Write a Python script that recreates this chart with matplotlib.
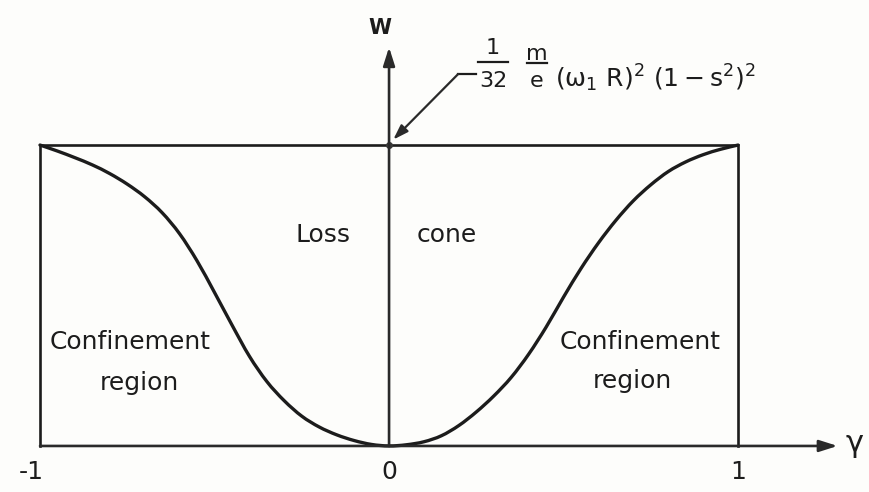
import numpy as np
import matplotlib.pyplot as plt
from matplotlib.path import Path
from matplotlib.patches import PathPatch

# W(gamma), normalised so the top of the loss cone is 1
gamma = [-1.0, -0.95, -0.9, -0.85, -0.8, -0.75, -0.7, -0.65, -0.6, -0.55,
         -0.5, -0.45, -0.4, -0.35, -0.3, -0.25, -0.2, -0.15, -0.1, -0.05,
         0.0, 0.05, 0.1, 0.15, 0.2, 0.25, 0.3, 0.35, 0.4, 0.45,
         0.5, 0.55, 0.6, 0.65, 0.7, 0.75, 0.8, 0.85, 0.9, 0.95, 1.0]
W = [1.0, 0.980, 0.958, 0.934, 0.905, 0.870, 0.828, 0.775, 0.705, 0.615,
     0.510, 0.402, 0.298, 0.214, 0.150, 0.099, 0.063, 0.037, 0.018, 0.005,
     0.0, 0.004, 0.014, 0.034, 0.068, 0.113, 0.166, 0.228, 0.305, 0.395,
     0.495, 0.590, 0.675, 0.750, 0.815, 0.868, 0.912, 0.944, 0.968, 0.986, 1.0]

tick_vals = [-1, 0, 1]
tick_labels = ['-1', '0', '1']

ink = '#1c1c1c'
plt.rcParams['font.family'] = 'DejaVu Sans'
plt.rcParams['mathtext.fontset'] = 'dejavusans'
plt.rcParams['mathtext.default'] = 'regular'


def smooth_path(xs, ys):
    # Catmull-Rom through the points, written as cubic Bezier pieces
    p = np.column_stack([xs, ys])
    p = np.vstack([p[0], p, p[-1]])
    verts = [p[1]]
    codes = [Path.MOVETO]
    for i in range(1, len(p) - 2):
        c1 = p[i] + (p[i + 1] - p[i - 1]) / 6
        c2 = p[i + 1] - (p[i + 2] - p[i]) / 6
        verts += [c1, c2, p[i + 1]]
        codes += [Path.CURVE4] * 3
    return Path(verts, codes)


fig = plt.figure(figsize=(8.69, 4.92), dpi=100)
fig.patch.set_facecolor('#fdfdfb')
ax = fig.add_axes([0, 0, 1, 1])
ax.set_xlim(-1.1146, 1.375)
ax.set_ylim(-0.153, 1.482)
ax.axis('off')

# frame of the diagram
ax.plot([-1, -1, 1, 1], [0, 1, 1, 0], color=ink, lw=1.9, solid_joinstyle='miter')
ax.add_patch(PathPatch(smooth_path(gamma, W), facecolor='none', edgecolor=ink,
                       lw=2.4, capstyle='round'))

# axes with arrow heads
ax.annotate('', xy=(1.285, 0), xytext=(-1, 0),
            arrowprops=dict(arrowstyle='-|>,head_length=1.1,head_width=0.35',
                            color='#2a2a2a', lw=1.9, shrinkA=0, shrinkB=0))
ax.annotate('', xy=(0, 1.325), xytext=(0, 0),
            arrowprops=dict(arrowstyle='-|>,head_length=1.1,head_width=0.35',
                            color='#2a2a2a', lw=1.9, shrinkA=0, shrinkB=0))
ax.plot([0], [1], 'o', color='#3a3a3a', ms=4)

ax.text(-0.025, 1.39, 'W', fontsize=15, fontweight='bold', ha='center', va='center',
        color=ink)
ax.text(1.335, 0.0, r'$\gamma$', fontsize=22, ha='center', va='center', color=ink)

# tick labels under the frame
for v, lab in zip(tick_vals, tick_labels):
    ha = 'right' if v < 0 else 'center'
    xpos = v + 0.012 if v < 0 else v
    ax.text(xpos, -0.085, lab, fontsize=18, ha=ha, va='center', color=ink)

# value of W at the top of the loss cone, with its leader arrow
ax.plot([0.198, 0.249], [1.236, 1.236], color=ink, lw=1.6)
ax.annotate('', xy=(0.012, 1.018), xytext=(0.198, 1.236),
            arrowprops=dict(arrowstyle='-|>,head_length=0.9,head_width=0.3',
                            color='#2a2a2a', lw=1.6, shrinkA=0, shrinkB=0))
frac_style = dict(fontsize=16, ha='center', va='center', color=ink)
ax.text(0.298, 1.322, '1', **frac_style)
ax.plot([0.255, 0.341], [1.276, 1.276], color=ink, lw=1.6)
ax.text(0.298, 1.213, '32', **frac_style)
ax.text(0.424, 1.302, 'm', **frac_style)
ax.plot([0.395, 0.453], [1.274, 1.274], color=ink, lw=1.6)
ax.text(0.424, 1.213, 'e', **frac_style)
ax.text(0.476, 1.19, r'$(\omega_1\ R)^2\ (1-s^2)^2$', fontsize=18, ha='left',
        va='baseline', color=ink)

# region names
ax.text(-0.19, 0.70, 'Loss', fontsize=18, ha='center', va='center', color=ink)
ax.text(0.165, 0.70, 'cone', fontsize=18, ha='center', va='center', color=ink)
ax.text(-0.743, 0.345, 'Confinement', fontsize=18, ha='center', va='center', color=ink)
ax.text(-0.714, 0.21, 'region', fontsize=18, ha='center', va='center', color=ink)
ax.text(0.719, 0.345, 'Confinement', fontsize=18, ha='center', va='center', color=ink)
ax.text(0.696, 0.215, 'region', fontsize=18, ha='center', va='center', color=ink)

fig.savefig('out.png', dpi=100, facecolor=fig.get_facecolor())
